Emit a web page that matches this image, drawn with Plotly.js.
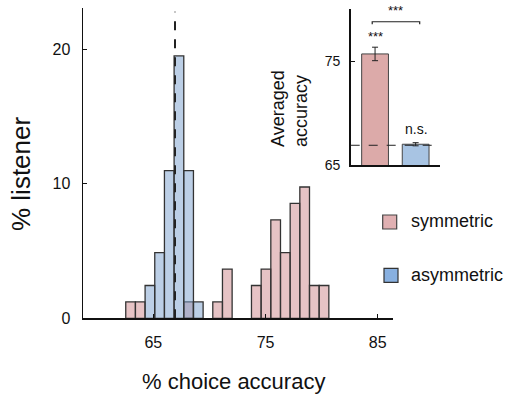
<!DOCTYPE html>
<html>
<head>
<meta charset="utf-8">
<script src="https://cdn.plot.ly/plotly-3.0.1.min.js"></script>
<style>html,body{margin:0;padding:0;background:#fff;}#chart{width:505px;height:395px;}</style>
</head>
<body>
<div id="chart"></div>
<script>
// ---- data ----
const binStart = 62.54;          // left edge of first histogram bin (% choice accuracy)
const binWidth = 0.862;
const symmetricPct  = [1.22,1.22,0,0,0,0,1.22,0,0,1.22,3.66,0,0,2.44,3.66,7.32,4.88,8.54,9.76,2.44,2.44];
const asymmetricPct = [0,0,2.44,4.88,10.98,19.51,10.98,1.22,0,0,0,0,0,0,0,0,0,0,0,0,0];
const chanceLine = 66.93;        // dashed reference line (asymmetric mean)
const xTicks = [65,75,85];
const yTicks = [0,10,20];

const groups = ['symmetric','asymmetric'];
const meanAcc = [75.7, 67.0];
const semAcc  = [0.65, 0.15];
const insetTicks = [65,75];
const insetChance = 66.9;

const fontFam = '"Liberation Sans", Arial, Helvetica, sans-serif';

const centers = symmetricPct.map((_, i) => binStart + binWidth * (i + 0.5));
const nz = a => a.map(v => v === 0 ? null : v);

const traces = [
  {type:'bar', x:centers, y:nz(symmetricPct), width:binWidth, name:'symmetric',
   marker:{color:'rgba(205,135,139,0.5)', line:{color:'#333', width:1.3}},
   xaxis:'x', yaxis:'y', showlegend:false, hoverinfo:'skip'},
  {type:'bar', x:centers, y:nz(asymmetricPct), width:binWidth, name:'asymmetric',
   marker:{color:'rgba(121,159,205,0.5)', line:{color:'#333', width:1.3}},
   xaxis:'x', yaxis:'y', showlegend:false, hoverinfo:'skip'},
  {type:'bar', x:[0,1], y:meanAcc, width:0.66,
   marker:{color:['#dcaaa9','#a8c4e3'], line:{color:'#444', width:1}},
   error_y:{type:'data', array:semAcc, visible:true, color:'#222', thickness:1, width:3},
   xaxis:'x2', yaxis:'y2', showlegend:false, hoverinfo:'skip'}
];

const W = 505, H = 395;
const px = v => v / W, py = v => 1 - v / H;

const layout = {
  width:W, height:H, margin:{l:0,r:0,t:0,b:0},
  paper_bgcolor:'#fff', plot_bgcolor:'rgba(0,0,0,0)',
  barmode:'overlay', bargap:0,
  font:{family:fontFam, color:'#111'},
  xaxis:{domain:[px(83), px(393)], range:[58.73, 86.36], tickvals:xTicks, ticktext:xTicks.map(String),
         ticks:'inside', ticklen:4, tickcolor:'#111', showline:true, linecolor:'#111', linewidth:1.5,
         showgrid:false, zeroline:false, tickfont:{size:16, family:fontFam, color:'#111'}, ticklabelstandoff:9},
  yaxis:{domain:[py(318.3), py(8)], range:[0, 23.07], tickvals:yTicks, ticktext:yTicks.map(String),
         ticks:'inside', ticklen:4, tickcolor:'#111', showline:true, linecolor:'#111', linewidth:1.5,
         showgrid:false, zeroline:false, tickfont:{size:16, family:fontFam, color:'#111'}, ticklabelstandoff:8},
  xaxis2:{domain:[px(350.7), px(440)], range:[-0.6, 1.6], anchor:'y2', showticklabels:false, ticks:'',
          showline:true, linecolor:'#111', linewidth:1.5, showgrid:false, zeroline:false},
  yaxis2:{domain:[py(165), py(9.3)], range:[65, 80], anchor:'x2', tickvals:insetTicks, ticktext:insetTicks.map(String),
          ticks:'inside', ticklen:4, tickcolor:'#111', showline:true, linecolor:'#111', linewidth:1.5,
          showgrid:false, zeroline:false, tickfont:{size:14, family:fontFam, color:'#111'}, ticklabelstandoff:6},
  shapes:[
    {type:'line', xref:'x', yref:'y', x0:chanceLine, x1:chanceLine, y0:0, y1:22.8, layer:'above',
     line:{color:'#222', width:2, dash:'dash'}},
    {type:'line', xref:'x2 domain', yref:'y2', x0:0, x1:1, y0:insetChance, y1:insetChance, layer:'above',
     line:{color:'#222', width:1, dash:'dash'}},
    {type:'path', xref:'x2', yref:'y2', path:'M-0.07,78.55 L-0.07,78.8 L1.1,78.8 L1.1,78.55', layer:'above',
     line:{color:'#222', width:1.2}},
    // legend swatches
    {type:'rect', xref:'paper', yref:'paper', x0:px(382.7), x1:px(396.7), y0:py(229), y1:py(215),
     fillcolor:'#e0b0b2', line:{color:'#444', width:1.2}},
    {type:'rect', xref:'paper', yref:'paper', x0:px(384), x1:px(398), y0:py(282.3), y1:py(268.3),
     fillcolor:'#88b0e0', line:{color:'#333', width:1.2}}
  ],
  annotations:[
    {xref:'paper', yref:'paper', x:px(233), y:py(381), text:'% choice accuracy', showarrow:false,
     xanchor:'center', yanchor:'middle', font:{size:22, family:fontFam, color:'#111'}},
    {xref:'paper', yref:'paper', x:px(21), y:py(174), text:'% listener', showarrow:false, textangle:-90,
     xanchor:'center', yanchor:'middle', font:{size:26, family:fontFam, color:'#111'}},
    {xref:'paper', yref:'paper', x:px(289), y:py(109), text:'Averaged<br>accuracy', showarrow:false, textangle:-90,
     align:'left', xanchor:'center', yanchor:'middle', font:{size:18, family:fontFam, color:'#111'}},
    {xref:'x2', yref:'y2', x:0, y:77.4, text:'***', showarrow:false, xanchor:'center', yanchor:'middle',
     font:{size:13, family:fontFam, color:'#111'}},
    {xref:'x2', yref:'y2', x:0.5, y:79.85, text:'***', showarrow:false, xanchor:'center', yanchor:'middle',
     font:{size:13, family:fontFam, color:'#111'}},
    {xref:'x2', yref:'y2', x:1.02, y:68.45, text:'n.s.', showarrow:false, xanchor:'center', yanchor:'middle',
     font:{size:14, family:fontFam, color:'#111'}},
    {xref:'paper', yref:'paper', x:px(409), y:py(221), text:groups[0], showarrow:false, xanchor:'left', yanchor:'middle',
     font:{size:18, family:fontFam, color:'#111'}},
    {xref:'paper', yref:'paper', x:px(409), y:py(275), text:groups[1], showarrow:false, xanchor:'left', yanchor:'middle',
     font:{size:18, family:fontFam, color:'#111'}}
  ]
};

Plotly.newPlot('chart', traces, layout, {staticPlot:true, displayModeBar:false});
</script>
</body>
</html>
